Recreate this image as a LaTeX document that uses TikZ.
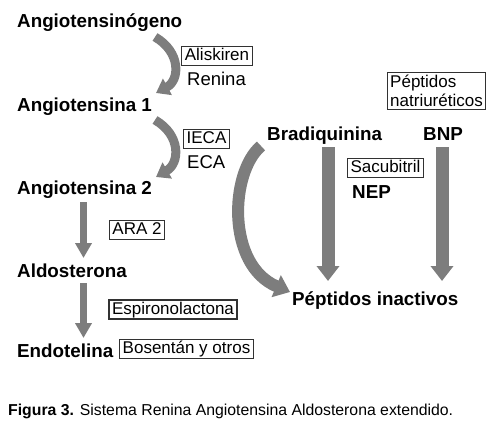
\documentclass[tikz,border=0pt]{standalone}
\usepackage{fontspec}
\setmainfont{Liberation Sans}
\usetikzlibrary{arrows.meta}

\definecolor{flecha}{RGB}{125,125,125}
\definecolor{borde}{RGB}{50,50,50}

\tikzset{
  sustancia/.style={anchor=base west, inner sep=0pt, font=\fontsize{18.8}{22}\selectfont\bfseries},
  enzima/.style={anchor=base west, inner sep=0pt, font=\fontsize{18.5}{22}\selectfont},
  caja/.style={draw=borde, line width=1.2pt, inner xsep=3pt, inner ysep=1.5pt, font=\fontsize{17}{20}\selectfont},
  farmaco/.style={caja, text height=12.5pt, text depth=3.5pt},
  curva/.style={draw=flecha, line width=9pt, -{Triangle[length=13pt,width=18pt]}},
  recta/.style={draw=flecha, line width=7pt, -{Triangle[length=15pt,width=16pt]}},
  gruesa/.style={draw=flecha, line width=13pt, -{Triangle[length=15pt,width=22pt]}},
  arco/.style={draw=flecha, line width=12pt, -{Triangle[length=15pt,width=23pt]}},
}

\begin{document}
\begin{tikzpicture}[x=1pt,y=-1pt]
	\useasboundingbox (0,0) rectangle (497,425);

	% cascada
	\node[sustancia] (ango) at (17,28) {Angiotensinógeno};
	\node[sustancia] (ang1) at (17,111) {Angiotensina 1};
	\node[sustancia] (ang2) at (17,194) {Angiotensina 2};
	\node[sustancia] (aldo) at (17,277) {Aldosterona};
	\node[sustancia] (endo) at (17,357) {Endotelina};

	\node[farmaco] (alisk) at (217,56) {Aliskiren};
	\node[enzima] (renina) at (187,85) {Renina};
	\node[farmaco] (ieca) at (206.5,139) {IECA};
	\node[enzima] (eca) at (187,168) {ECA};
	\node[farmaco] (ara) at (137,230) {ARA 2};
	\node[farmaco] (espiro) at (173,309.5) {Espironolactona};
	\node[farmaco] (bosen) at (186.5,349) {Bosentán y otros};

	\draw[curva] ([shift={(138,9)}]ango.base west) .. controls (181,52) and (180,80) .. ([shift={(139,-18)}]ang1.base west);
	\draw[curva] ([shift={(138,9)}]ang1.base west) .. controls (181,135) and (180,163) .. ([shift={(139,-17)}]ang2.base west);
	\draw[recta] ([shift={(66.5,8)}]ang2.base west) -- ([shift={(66.5,-19)}]aldo.base west);
	\draw[recta] ([shift={(66.5,6)}]aldo.base west) -- ([shift={(66.5,-19)}]endo.base west);

	% peptidos
	\node[sustancia] (brad) at (267,140) {Bradiquinina};
	\node[sustancia] (bnp) at (423,140) {BNP};
	\node[sustancia] (nep) at (352,198) {NEP};
	\node[sustancia] (inact) at (292,305) {Péptidos inactivos};
	\node[caja, align=left, inner ysep=2.5pt] (natri) at (436.5,91) {Péptidos\\[-1pt]natriuréticos};
	\node[farmaco] (sacu) at (385.5,168) {Sacubitril};

	\draw[gruesa] ([shift={(61,7)}]brad.base west) -- ([shift={(36,-24)}]inact.base west);
	\draw[gruesa] ([shift={(19,7)}]bnp.base west) -- ([shift={(150,-24)}]inact.base west);
	\draw[arco] ([shift={(-6,6)}]brad.base west) .. controls (230,172) and (226,265) .. ([shift={(-2,-13)}]inact.base west);

	\node[anchor=base west, inner sep=0pt, font=\fontsize{15.8}{18}\selectfont] (pie) at (8,415) {\textbf{Figura 3.} Sistema Renina Angiotensina Aldosterona extendido.};
\end{tikzpicture}
\end{document}
